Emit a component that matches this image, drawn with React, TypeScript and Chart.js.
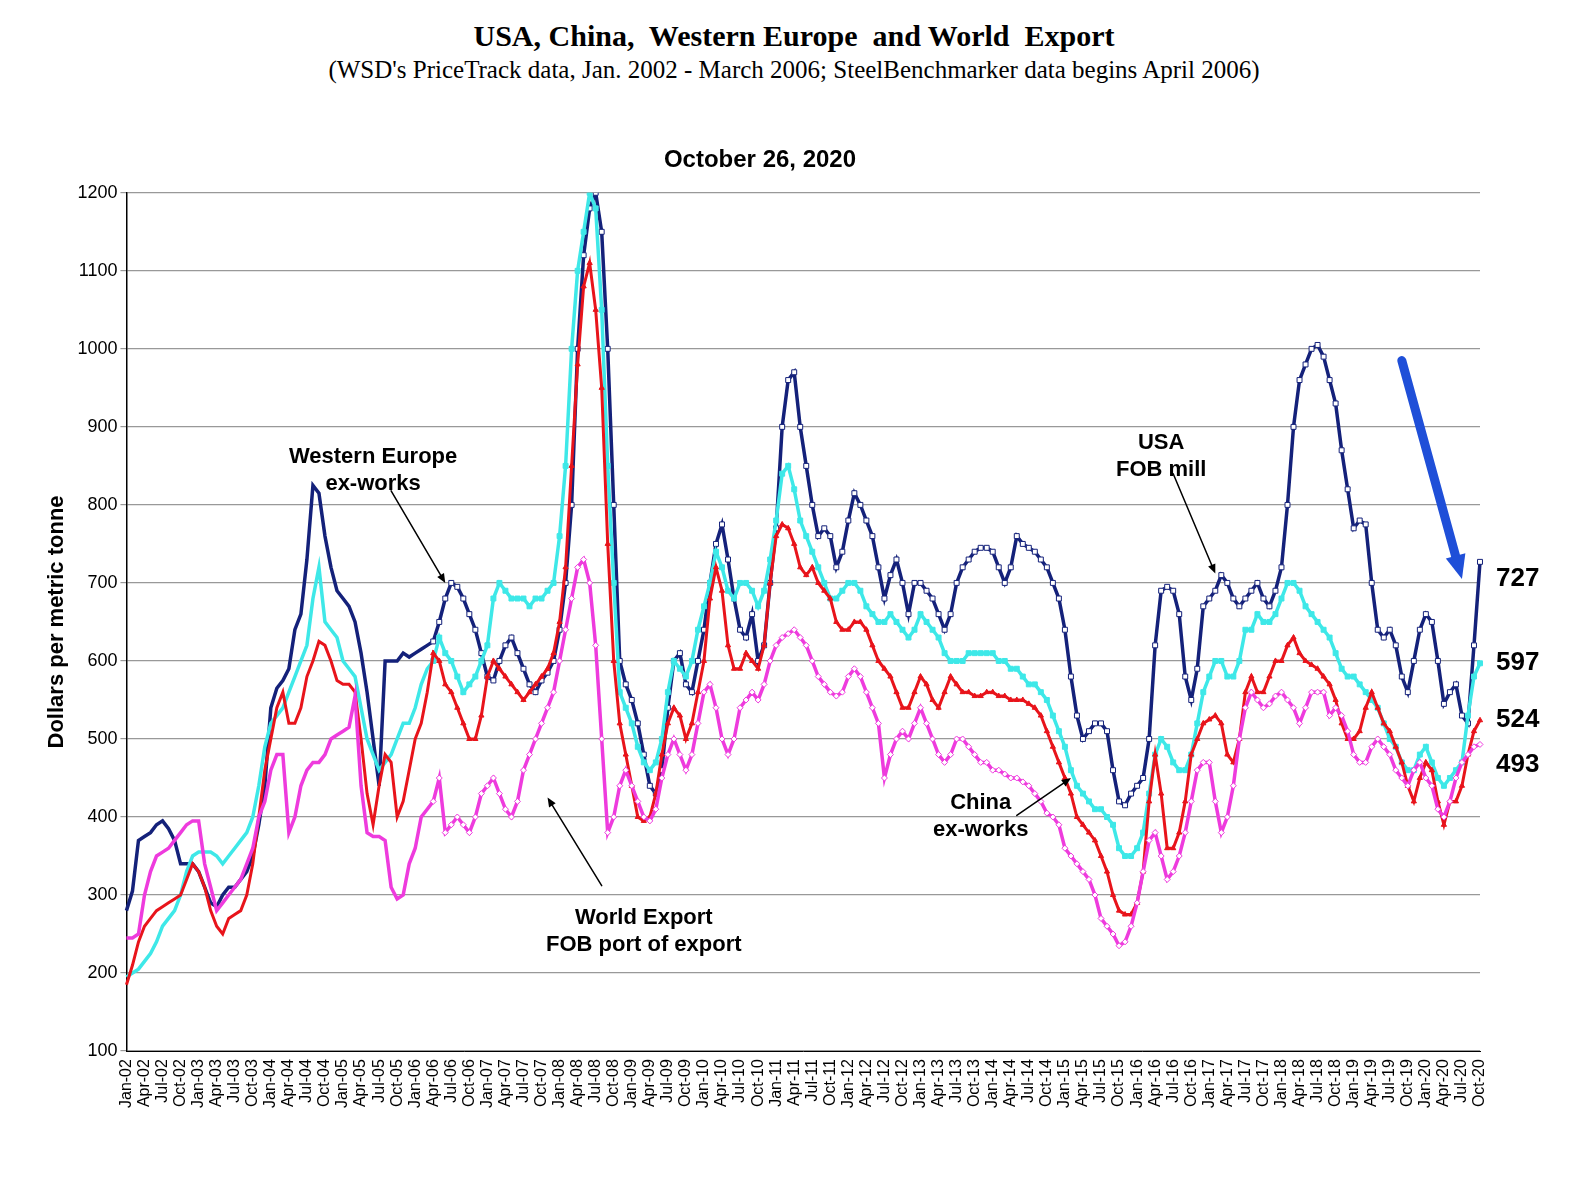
import React, { useEffect, useRef } from "react";
import { Chart, registerables } from "chart.js";
Chart.register(...registerables);

const MON = ["Jan","Feb","Mar","Apr","May","Jun","Jul","Aug","Sep","Oct","Nov","Dec"];
const months: string[] = [];
for (let y = 2002; y <= 2020; y++) for (let m = 0; m < 12; m++) {
  if (y === 2020 && m > 9) break;
  months.push(`${MON[m]}-${String(y).slice(2)}`);
}

const usa = [
280,305,370,375,380,390,395,385,370,340,340,340,
330,310,290,285,300,310,310,320,330,350,390,440,
540,565,575,590,640,660,730,825,815,760,720,690,
680,670,650,610,560,500,440,600,600,600,610,605,
610,615,620,625,650,680,700,695,680,660,640,610,
580,575,600,620,630,610,590,570,560,575,585,600,
640,700,800,1000,1120,1180,1200,1150,1000,800,600,570,
550,520,480,440,430,460,540,600,610,570,560,600,
640,700,750,775,730,680,640,630,660,600,620,700,
770,900,960,970,900,850,800,760,770,760,720,740,
780,815,800,780,760,720,680,710,730,700,660,700,
700,690,680,660,640,660,700,720,730,740,745,745,
740,720,700,720,760,750,745,740,730,720,700,680,
640,580,530,500,510,520,520,510,460,420,415,430,
440,450,500,620,690,695,690,660,580,550,590,670,
680,690,710,700,680,670,680,690,700,680,670,690,
720,800,900,960,980,1000,1005,990,960,930,870,820,
770,780,775,700,640,630,640,620,580,560,600,640,
660,650,600,545,560,570,530,520,620,727];

const europe = [
195,200,205,215,225,240,260,270,280,300,330,350,
355,355,355,350,340,350,360,370,380,400,440,490,
520,530,540,560,580,600,620,680,720,650,640,630,
600,590,580,540,500,480,460,470,480,500,520,520,
540,570,590,600,630,610,600,580,560,570,580,600,
620,680,700,690,680,680,680,670,680,680,690,700,
760,850,1000,1100,1150,1200,1180,1050,850,700,560,540,
520,490,470,460,470,500,560,600,590,580,600,640,
670,700,740,720,690,680,700,700,690,670,690,730,
780,840,850,820,780,760,740,720,700,680,680,690,
700,700,690,670,660,650,650,660,650,640,630,640,
660,650,640,630,610,600,600,600,610,610,610,610,
610,600,600,590,590,580,570,570,560,550,530,510,
490,460,440,430,420,410,410,400,390,360,350,350,
360,380,430,480,500,490,470,460,460,480,520,560,
580,600,600,580,580,600,640,640,660,650,650,660,
680,700,700,690,670,660,650,640,630,610,590,580,
580,570,560,550,540,520,500,490,470,460,460,480,
490,470,450,440,450,460,470,530,580,597];

const china = [
185,210,240,260,270,280,285,290,295,300,320,340,
330,310,280,260,250,270,275,280,300,340,400,460,
500,540,560,520,520,540,580,600,625,620,600,575,
570,570,560,500,430,390,440,480,470,400,420,460,
500,520,560,610,600,570,560,540,520,500,500,530,
580,600,590,580,570,560,550,560,570,580,590,610,
650,720,850,980,1080,1110,1050,950,750,600,520,480,
440,400,395,400,430,480,520,540,530,500,520,560,
600,680,720,690,620,590,590,610,600,590,620,700,
760,775,770,750,720,710,720,700,690,680,650,640,
640,650,650,640,620,600,590,580,560,540,540,560,
580,570,550,540,560,580,570,560,560,555,555,560,
560,555,555,550,550,550,545,540,530,510,490,470,
450,430,400,390,380,370,350,330,300,280,275,275,
290,330,420,480,430,360,360,380,420,480,500,520,
525,530,520,480,470,500,560,580,560,560,580,600,
600,620,630,610,600,595,590,580,570,550,520,500,
500,510,540,560,540,520,510,490,470,440,420,450,
470,460,420,390,420,420,440,480,510,524];

const world = [
245,245,250,300,330,350,355,360,370,380,390,395,
395,340,310,280,290,300,310,320,340,360,400,420,
460,480,480,380,400,440,460,470,470,480,500,505,
510,515,555,440,380,375,375,370,310,295,300,340,
360,400,410,420,450,380,390,400,390,380,400,430,
440,450,430,410,400,420,460,480,500,520,540,560,
600,640,680,720,730,700,620,500,380,400,440,460,
440,420,400,395,410,450,480,500,480,460,480,520,
560,570,540,500,480,500,540,550,560,550,570,600,
620,630,635,640,630,620,600,580,570,560,555,560,
580,590,580,560,540,520,450,480,500,510,500,520,
540,520,500,480,470,480,500,500,490,480,470,470,
460,460,455,450,450,445,440,430,420,405,400,390,
360,350,340,330,320,300,270,260,250,235,240,260,
290,330,370,380,350,320,330,350,380,420,460,470,
470,420,380,400,440,500,540,560,550,540,545,555,
560,550,540,520,540,560,560,560,530,540,530,510,
480,470,470,490,500,490,480,460,450,440,460,470,
450,440,410,400,420,450,470,480,490,493];

const endLabels = [
  { text: "727", v: 705 }, { text: "597", v: 597 },
  { text: "524", v: 525 }, { text: "493", v: 467 },
];

const START = 51; // Apr-06: markers begin

function arrow(ctx: CanvasRenderingContext2D, x1: number, y1: number, x2: number, y2: number, w: number, color: string, head: number) {
  ctx.save();
  ctx.strokeStyle = color; ctx.fillStyle = color; ctx.lineWidth = w; ctx.lineCap = "round";
  const a = Math.atan2(y2 - y1, x2 - x1);
  ctx.beginPath(); ctx.moveTo(x1, y1); ctx.lineTo(x2 - Math.cos(a) * head * 0.8, y2 - Math.sin(a) * head * 0.8); ctx.stroke();
  ctx.beginPath(); ctx.moveTo(x2, y2);
  ctx.lineTo(x2 - head * Math.cos(a - 0.4), y2 - head * Math.sin(a - 0.4));
  ctx.lineTo(x2 - head * Math.cos(a + 0.4), y2 - head * Math.sin(a + 0.4));
  ctx.closePath(); ctx.fill();
  ctx.restore();
}

const annot = {
  id: "annot",
  afterDraw(chart: any) {
    const { ctx, scales: { x, y }, chartArea } = chart;
    const X = (i: number) => x.getPixelForValue(i);
    const Y = (v: number) => y.getPixelForValue(v);
    ctx.save();
    ctx.fillStyle = "#000";
    ctx.font = "bold 22px 'Liberation Sans', Arial, sans-serif";
    ctx.textAlign = "center"; ctx.textBaseline = "middle";
    const txt = (lines: string[], i: number, v: number) =>
      lines.forEach((l, k) => ctx.fillText(l, X(i), Y(v) + k * 27));
    txt(["Western Europe", "ex-works"], 41, 862);
    arrow(ctx, X(44), Y(818), X(53), Y(700), 1.5, "#000", 10);
    txt(["USA", "FOB mill"], 172, 880);
    arrow(ctx, X(174), Y(840), X(181), Y(712), 1.5, "#000", 10);
    txt(["China", "ex-works"], 142, 418);
    arrow(ctx, X(148), Y(402), X(157), Y(450), 1.5, "#000", 10);
    txt(["World Export", "FOB port of export"], 86, 270);
    arrow(ctx, X(79), Y(312), X(70), Y(425), 1.5, "#000", 10);
    arrow(ctx, X(212), Y(985), X(222), Y(705), 9, "#1f4fd8", 26);
    ctx.font = "bold 26px 'Liberation Sans', Arial, sans-serif";
    ctx.textAlign = "left";
    endLabels.forEach(e => ctx.fillText(e.text, chartArea.right + 16, Y(e.v)));
    ctx.restore();
  },
};

export default function App() {
  const ref = useRef<HTMLCanvasElement>(null);
  useEffect(() => {
    const mk = (label: string, data: number[], color: string, style: string, r: number, bg: string, w: number, markFrom: number) => ({
      label, data, borderColor: color, borderWidth: w, backgroundColor: bg,
      pointStyle: style, pointBorderColor: color, pointBorderWidth: 1,
      pointRadius: (c: any) => (c.dataIndex >= markFrom ? r : 0),
      tension: 0,
    });
    const chart = new Chart(ref.current!, {
      type: "line",
      data: {
        labels: months,
        datasets: [
          mk("World", world, "#ee3bdd", "rectRot", 3, "#fff", 3.5, START),
          mk("China", china, "#e8141b", "triangle", 3, "#e8141b", 3, START),
          mk("Europe", europe, "#3ee8e8", "rect", 3.5, "#3ee8e8", 3.5, START),
          mk("USA", usa, "#14217a", "rect", 3.5, "#fff", 3.5, START),
        ],
      },
      options: {
        animation: false, responsive: false,
        layout: { padding: { right: 100, left: 32, top: 0 } },
        plugins: {
          legend: { display: false }, tooltip: { enabled: false },
          title: { display: true, text: "October 26, 2020", color: "#000",
            font: { size: 24, weight: "bold", family: "'Liberation Sans', Arial" }, padding: { top: 0, bottom: 18 } },
        },
        scales: {
          x: {
            grid: { display: false, drawTicks: true, tickLength: 5 },
            border: { color: "#000" },
            ticks: {
              autoSkip: false, maxRotation: 90, minRotation: 90, color: "#000",
              font: { size: 16, family: "'Liberation Sans', Arial" },
              callback: (v: any, i: number) => (i % 3 === 0 ? months[i] : null),
            },
          },
          y: {
            min: 100, max: 1200,
            grid: { color: "#999", lineWidth: 1.2, tickLength: 6 },
            border: { color: "#000", width: 1.5 },
            ticks: { stepSize: 100, color: "#000", font: { size: 18, family: "'Liberation Sans', Arial" },
              callback: (v: any) => String(v) },
            title: { display: true, text: "Dollars per metric tonne", color: "#000",
              font: { size: 22, weight: "bold", family: "'Liberation Sans', Arial" } },
          },
        },
      },
      plugins: [annot],
    } as any);
    return () => chart.destroy();
  }, []);
  return (
    <div style={{ fontFamily: "'Liberation Serif', 'Times New Roman', serif", textAlign: "center", color: "#000" }}>
      <div style={{ fontSize: 30, fontWeight: "bold", marginTop: 10, lineHeight: "36px" }}>
        USA, China,&nbsp; Western Europe&nbsp; and World&nbsp; Export
      </div>
      <div style={{ fontSize: 25, lineHeight: "32px" }}>
        (WSD's PriceTrack data, Jan. 2002 - March 2006; SteelBenchmarker data begins April 2006)
      </div>
      <canvas ref={ref} width={1572} height={965} style={{ display: "block", marginTop: 60 }} />
    </div>
  );
}
